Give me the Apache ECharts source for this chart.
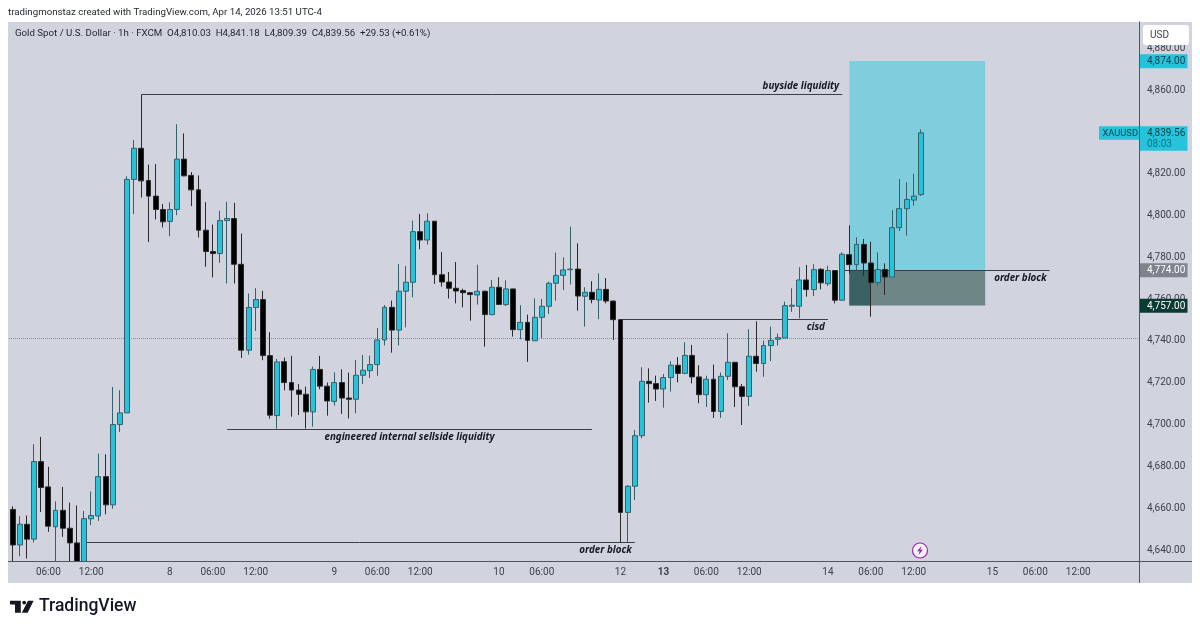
<!DOCTYPE html>
<html>
<head>
<meta charset="utf-8">
<style>
  html, body { margin: 0; padding: 0; background: #fff; }
  #chart { width: 1200px; height: 631px; }
</style>
<script src="https://cdn.jsdelivr.net/npm/echarts@6/dist/echarts.min.js"></script>
</head>
<body>
<div id="chart"></div>
<script>
// hourly candles
const opens = [
  4659.4,4642.4,4652.3,4645.2,4682.3,4670.2,4651.1,4659.0,4650.4,4643.4,
  4634.5,4654.9,4656.3,4675.1,4661.6,4700.0,4705.6,4817.3,4832.2,4816.8,
  4809.3,4802.9,4797.2,4802.9,4827.0,4819.2,4812.3,4793.0,4782.8,4781.8,
  4797.6,4798.6,4776.7,4735.6,4756.0,4759.8,4733.0,4704.3,4730.1,4720.1,
  4716.5,4714.5,4706.1,4726.4,4718.4,4711.1,4720.1,4712.7,4712.1,4723.6,
  4725.8,4728.7,4740.5,4756.1,4745.2,4763.8,4768.1,4792.3,4788.3,4797.3,
  4771.7,4768.2,4765.2,4764.1,4763.1,4762.0,4763.8,4752.6,4765.7,4757.4,
  4764.9,4745.4,4748.9,4740.1,4751.3,4756.6,4767.6,4771.4,4774.1,4774.4,
  4761.4,4763.3,4759.6,4764.7,4759.1,4750.2,4658.0,4670.5,4694.7,4720.7,
  4719.6,4717.0,4722.5,4728.4,4724.5,4733.1,4722.8,4714.3,4721.7,4706.3,
  4723.1,4729.8,4718.1,4713.5,4732.7,4729.2,4737.8,4740.8,4741.4,4756.6,
  4756.6,4769.2,4764.6,4774.3,4767.4,4773.7,4759.5,4781.3,4776.5,4786.2,
  4777.3,4767.9,4774.2,4770.6,4794.2,4803.3,4807.4,4810.03
];
const closes = [
  4642.4,4652.3,4645.2,4682.3,4669.9,4651.4,4659.0,4650.4,4643.4,4634.5,
  4655.0,4656.5,4675.1,4661.6,4700.0,4705.6,4817.3,4832.2,4816.6,4809.3,
  4802.9,4797.0,4802.9,4827.0,4819.0,4812.3,4793.0,4782.8,4781.8,4797.6,
  4798.6,4776.7,4735.6,4756.0,4759.8,4733.0,4704.5,4730.0,4720.1,4716.5,
  4714.5,4706.1,4726.4,4718.4,4711.3,4720.1,4712.7,4712.1,4723.6,4726.0,
  4728.7,4740.5,4756.1,4745.2,4763.8,4768.1,4792.3,4788.3,4797.3,4771.7,
  4768.2,4765.2,4763.9,4763.1,4762.2,4763.8,4752.6,4765.7,4757.5,4764.9,
  4745.4,4748.9,4740.3,4751.3,4756.6,4767.6,4771.4,4774.0,4774.4,4761.5,
  4763.3,4759.8,4764.7,4759.1,4750.2,4658.0,4670.5,4694.7,4720.7,4719.6,
  4717.0,4722.5,4728.4,4724.5,4733.1,4722.8,4714.3,4721.7,4706.3,4723.1,
  4729.8,4718.1,4713.5,4732.7,4729.2,4737.8,4740.3,4741.6,4756.9,4757.1,
  4769.2,4764.6,4774.1,4767.8,4773.7,4759.5,4781.5,4776.5,4786.2,4777.3,
  4767.9,4774.2,4770.6,4794.2,4803.3,4807.7,4809.3,4839.56
];
const lows = [
  4634.5,4637.0,4635.9,4643.6,4658.2,4648.7,4634.5,4646.3,4634.5,4634.5,
  4634.5,4651.9,4653.9,4657.1,4659.7,4696.5,4705.6,4800.7,4808.6,4787.3,
  4798.1,4794.3,4790.1,4800.2,4818.8,4804.5,4789.5,4775.5,4770.4,4777.4,
  4767.5,4767.5,4731.9,4733.5,4744.8,4730.8,4702.9,4698.1,4716.4,4703.8,
  4704.6,4698.1,4699.0,4716.9,4704.3,4709.1,4705.1,4703.0,4705.4,4719.4,
  4722.3,4723.4,4737.9,4734.4,4737.9,4746.5,4760.9,4783.9,4786.1,4767.3,
  4766.0,4760.3,4758.0,4756.1,4749.7,4757.4,4737.3,4752.3,4757.2,4756.7,
  4742.1,4740.8,4730.0,4740.1,4741.4,4752.9,4759.3,4764.4,4767.0,4754.5,
  4746.9,4758.0,4750.4,4758.0,4740.5,4643.7,4643.7,4663.9,4693.4,4710.5,
  4711.3,4708.1,4715.8,4720.2,4724.1,4719.7,4710.2,4708.4,4703.2,4703.2,
  4721.3,4708.4,4699.8,4708.9,4725.3,4722.9,4730.4,4737.8,4741.4,4753.9,
  4750.8,4761.2,4761.5,4764.7,4766.3,4758.0,4759.5,4772.3,4773.6,4771.2,
  4751.6,4766.4,4762.0,4770.6,4792.6,4790.4,4804.7,4809.39
];
const highs = [
  4660.9,4656.2,4656.5,4690.6,4694.1,4679.8,4663.3,4670.2,4662.7,4661.3,
  4658.7,4668.0,4686.1,4685.8,4718.0,4716.4,4818.8,4836.1,4857.9,4824.4,
  4824.6,4805.5,4806.4,4843.7,4839.3,4820.8,4819.2,4806.4,4795.7,4802.3,
  4806.6,4806.1,4791.4,4762.7,4765.3,4764.0,4744.2,4731.4,4732.0,4732.9,
  4719.4,4718.2,4727.7,4732.9,4720.1,4725.0,4726.4,4724.9,4730.9,4733.3,
  4733.0,4746.2,4757.2,4759.3,4776.8,4775.9,4797.6,4800.8,4801.1,4797.4,
  4782.6,4773.0,4777.8,4765.0,4763.1,4776.5,4764.1,4769.2,4770.5,4769.0,
  4765.0,4757.1,4752.6,4760.4,4760.1,4768.4,4782.3,4780.0,4794.7,4786.7,
  4765.7,4768.6,4772.4,4770.1,4759.3,4750.4,4671.1,4697.4,4727.4,4726.9,
  4723.4,4724.2,4730.3,4732.3,4739.4,4738.1,4728.4,4723.4,4728.7,4724.9,
  4743.7,4729.8,4719.4,4745.6,4749.4,4740.2,4746.9,4743.5,4758.8,4765.2,
  4775.3,4776.4,4776.7,4774.8,4776.0,4773.7,4782.4,4795.3,4789.6,4788.8,
  4787.5,4782.4,4777.1,4802.6,4817.5,4815.9,4819.9,4841.18
];

// x axis: 158 hourly slots, only some carry a label
const slotCount = 158;
const tickSlots = [5, 11, 22, 28, 34, 45, 51, 57, 68, 74, 85, 91, 97, 103, 114, 120, 126, 137, 143, 149];
const tickLabels = ['06:00', '12:00', '8', '06:00', '12:00', '9', '06:00', '12:00', '10', '06:00', '12', '13', '06:00', '12:00', '14', '06:00', '12:00', '15', '06:00', '12:00'];
const priceTicks = [4640, 4660, 4680, 4700, 4720, 4740, 4760, 4780, 4800, 4820, 4860, 4880];

// drawing levels
const prevClose = 4741.4;
const targetPrice = 4874;
const obTop = 4774;
const obBottom = 4757;
const lastPrice = 4839.56;

const UI_FONT = 'Roboto, "Noto Sans", sans-serif';
const NOTE_FONT = '"Noto Sans", sans-serif';
const TEAL = '#26C3DA';
const TEXT = '#3C414B';

const candles = opens.map((o, i) => [o, closes[i], lows[i], highs[i]]);
const slots = Array.from({ length: slotCount }, (_, i) => String(i));

function noteLine(a, b, price, text, position) {
  return [
    {
      coord: [a, price],
      label: {
        show: true,
        formatter: text,
        position: position,
        distance: [3, 3],
        color: '#131722',
        fontFamily: NOTE_FONT,
        fontStyle: 'italic',
        fontWeight: 'bold',
        fontSize: 9.8,
      },
    },
    { coord: [b, price] },
  ];
}

let chart = echarts.init(document.getElementById('chart'), null, { renderer: 'canvas' });

const option = {
  animation: false,
  backgroundColor: '#fff',
  grid: { left: 9, top: 22, width: 1130, height: 539.5 },
  xAxis: {
    type: 'category',
    data: slots,
    axisLine: { onZero: false, lineStyle: { color: '#50555E', width: 1 } },
    axisTick: { show: false },
    splitLine: { show: false },
    axisLabel: {
      interval: (i) => tickSlots.includes(i),
      margin: 6,
      color: TEXT,
      fontFamily: UI_FONT,
      fontSize: 10,
      formatter: (v) => {
        const text = tickLabels[tickSlots.indexOf(Number(v))];
        return text === '13' ? '{b|13}' : text;
      },
      rich: { b: { fontWeight: 'bold', fontFamily: UI_FONT, fontSize: 10, color: TEXT } },
    },
  },
  yAxis: {
    type: 'value',
    position: 'right',
    min: 4634.5,
    max: 4892.6,
    scale: true,
    axisLine: { show: true, lineStyle: { color: '#50555E', width: 1 } },
    axisTick: { show: false },
    splitLine: { show: false },
    axisLabel: {
      customValues: priceTicks,
      margin: 8,
      padding: [2, 0, 0, 0],
      color: TEXT,
      fontFamily: UI_FONT,
      fontSize: 10,
      formatter: (v) => v.toLocaleString('en-US', { minimumFractionDigits: 2 }),
    },
  },
  series: [
    {
      // rectangles and lines sit behind the candles
      type: 'line',
      data: [],
      z: 1,
      silent: true,
      markArea: {
        silent: true,
        z: 1,
        itemStyle: { opacity: 1 },
        data: [
          [{ coord: [117, targetPrice], itemStyle: { color: '#7FCDDD' } }, { coord: [136, obTop] }],
          [{ coord: [117, obTop], itemStyle: { color: '#6E8685' } }, { coord: [136, obBottom] }],
          [{ coord: [117, obTop], itemStyle: { color: '#3A6263' } }, { coord: [120, obBottom] }],
        ],
      },
      markLine: {
        silent: true,
        z: 1,
        symbol: 'none',
        animation: false,
        lineStyle: { color: '#3A3E46', width: 1, type: 'solid' },
        data: [
          noteLine(18, 116, 4857.9, 'buyside liquidity', 'insideEndTop'),
          noteLine(30, 81, 4698.0, 'engineered internal sellside liquidity', 'insideMiddleBottom'),
          noteLine(85, 114, 4750.4, 'cisd', 'insideEndBottom'),
          noteLine(10, 87, 4643.5, 'order block', 'insideEndBottom'),
          noteLine(116, 145, obTop, 'order block', 'insideEndBottom'),
          {
            yAxis: prevClose,
            label: { show: false },
            lineStyle: { color: '#8A8E97', type: 'dotted', width: 1 },
          },
        ],
      },
    },
    {
      type: 'candlestick',
      data: candles,
      z: 2,
      barWidth: 5.4,
      itemStyle: {
        color: TEAL,
        color0: '#000000',
        borderColor: '#35606A',
        borderColor0: '#2A2A2A',
        borderWidth: 1,
      },
    },
  ],
};

chart.setOption(option);

// price tags on the axis follow the y scale
function tag(price, lines, bg, fg) {
  const y = chart.convertToPixel({ yAxisIndex: 0 }, price);
  const h = lines.length > 1 ? 24.5 : 14;
  const items = [
    { type: 'rect', z: 20, shape: { x: 1140, y: y - 6.7, width: 47.5, height: h }, style: { fill: bg } },
    { type: 'text', z: 21, style: { x: 1147, y: y + 0.7, text: lines[0], fill: fg, font: '10px ' + UI_FONT, verticalAlign: 'middle' } },
  ];
  if (lines[1]) {
    items.push({ type: 'text', z: 21, style: { x: 1147, y: y + 11.5, text: lines[1], fill: '#0E7484', font: '10px ' + UI_FONT, verticalAlign: 'middle' } });
  }
  return items;
}

const lastY = chart.convertToPixel({ yAxisIndex: 0 }, lastPrice);

chart.setOption({
  graphic: [
    // chart pane
    { type: 'rect', z: -10, shape: { x: 8, y: 22, width: 1184, height: 561 }, style: { fill: '#D1D4DE' } },
    { type: 'line', z: 5, shape: { x1: 1139.5, y1: 561, x2: 1139.5, y2: 583 }, style: { stroke: '#50555E', lineWidth: 1 } },
    { type: 'line', z: 5, shape: { x1: 8, y1: 561.5, x2: 1192, y2: 561.5 }, style: { stroke: '#50555E', lineWidth: 1 } },

    // header texts
    { type: 'text', style: { x: 8, y: 12.5, text: 'tradingmonstaz created with TradingView.com, Apr 14, 2026 13:51 UTC-4', fill: '#1E222D', font: '9.7px ' + UI_FONT, verticalAlign: 'middle' } },
    { type: 'text', style: { x: 15, y: 34, text: 'Gold Spot / U.S. Dollar · 1h · FXCM  O4,810.03  H4,841.18  L4,809.39  C4,839.56  +29.53 (+0.61%)', fill: '#1E222D', font: '9.7px ' + UI_FONT, verticalAlign: 'middle' } },

    // currency button, drawn over the top tick label
    { type: 'rect', z: 22, shape: { x: 1143, y: 25, width: 46, height: 20, r: 3 }, style: { fill: '#fff' } },
    { type: 'text', z: 23, style: { x: 1150, y: 35, text: 'USD', fill: TEXT, font: '10px ' + UI_FONT, verticalAlign: 'middle' } },

    ...tag(targetPrice, ['4,874.00'], TEAL, '#0B3F4A'),
    ...tag(lastPrice, ['4,839.56', '08:03'], TEAL, '#0B3F4A'),
    ...tag(obTop, ['4,774.00'], '#7F838E', '#fff'),
    ...tag(obBottom, ['4,757.00'], '#0A3A31', '#fff'),

    { type: 'rect', z: 20, shape: { x: 1099, y: lastY - 6.7, width: 40, height: 13.5 }, style: { fill: TEAL } },
    { type: 'text', z: 21, style: { x: 1102.5, y: lastY + 0.7, text: 'XAUUSD', fill: '#0B3F4A', font: '9.3px ' + UI_FONT, verticalAlign: 'middle' } },

    // lightning badge
    { type: 'circle', z: 8, shape: { cx: 920, cy: 550.5, r: 7.5 }, style: { fill: '#F7F3F9', stroke: '#9C27B0', lineWidth: 1.2 } },
    { type: 'polygon', z: 9, shape: { points: [[921.5, 546], [917, 551.2], [919.6, 551.2], [918.5, 555], [923, 549.8], [920.4, 549.8]] }, style: { fill: '#9C27B0' } },

    // TradingView logo
    { type: 'polygon', shape: { points: [[10, 600.7], [20.8, 600.7], [20.8, 612.7], [15, 612.7], [15, 604.5], [10, 604.5]] }, style: { fill: '#131722' } },
    { type: 'circle', shape: { cx: 24.2, cy: 602.6, r: 1.9 }, style: { fill: '#131722' } },
    { type: 'polygon', shape: { points: [[28, 600.7], [33.6, 600.7], [27.6, 612.7], [21.8, 612.7]] }, style: { fill: '#131722' } },
    { type: 'text', style: { x: 39, y: 607, text: 'TradingView', fill: '#131722', font: '500 17.5px Roboto, sans-serif', verticalAlign: 'middle' } },
  ],
});
</script>
</body>
</html>
